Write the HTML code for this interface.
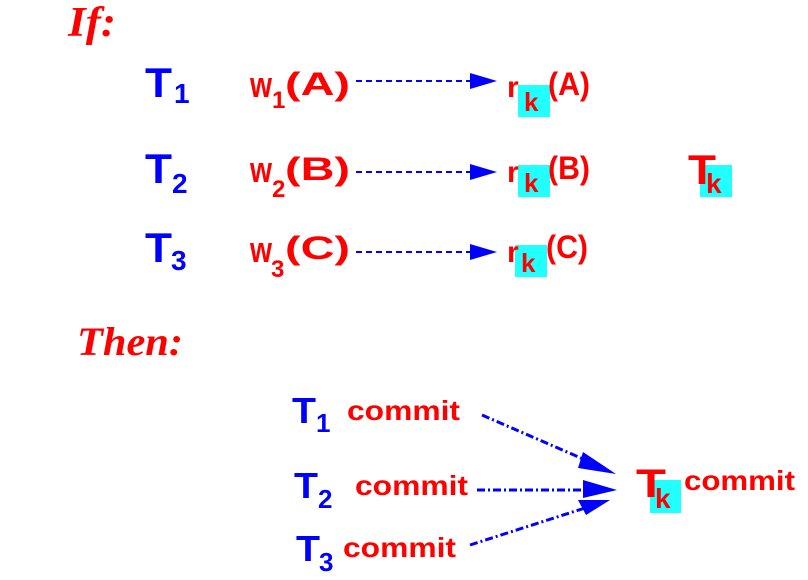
<!DOCTYPE html>
<html><head><meta charset="utf-8"><style>
html,body{margin:0;padding:0;background:#fff;width:808px;height:580px;overflow:hidden}
svg{display:block}
.b{fill:#0000ff;font-family:"Liberation Sans",sans-serif;font-weight:bold}
.r{fill:#ff0000;font-family:"Liberation Sans",sans-serif;font-weight:bold}
.h{fill:#ff0000;font-family:"Liberation Serif",serif;font-weight:bold;font-style:italic}
</style></head><body>
<svg width="808" height="580" viewBox="0 0 808 580">
<text class="h" x="68" y="36" font-size="42" textLength="48" lengthAdjust="spacingAndGlyphs">If:</text>

<g>
<text class="b" x="145" y="97" font-size="42" textLength="27" lengthAdjust="spacingAndGlyphs">T</text>
<text class="b" x="174" y="103" font-size="28">1</text>
<text class="r" x="250" y="97" font-size="36" textLength="22" lengthAdjust="spacingAndGlyphs">w</text>
<text class="r" x="272" y="108" font-size="24">1</text>
<text class="r" x="285" y="95" font-size="32" textLength="65" lengthAdjust="spacingAndGlyphs">(A)</text>
<line x1="356" y1="81" x2="472" y2="81" stroke="#0000ff" stroke-width="2" stroke-dasharray="6,4"/>
<path d="M470,73 L497,81 L470,89 z" fill="#0000ff"/>
<rect x="518" y="85" width="32" height="32" fill="#22ffff"/>
<text class="r" x="507" y="97" font-size="30">r</text>
<text class="r" x="524" y="111" font-size="26">k</text>
<text class="r" x="548" y="95" font-size="32" textLength="42" lengthAdjust="spacingAndGlyphs">(A)</text>
</g>

<g>
<text class="b" x="145" y="183" font-size="42" textLength="27" lengthAdjust="spacingAndGlyphs">T</text>
<text class="b" x="172" y="193" font-size="28">2</text>
<text class="r" x="250" y="182" font-size="36" textLength="22" lengthAdjust="spacingAndGlyphs">w</text>
<text class="r" x="272" y="197" font-size="24">2</text>
<text class="r" x="285" y="180" font-size="32" textLength="65" lengthAdjust="spacingAndGlyphs">(B)</text>
<line x1="356" y1="172" x2="472" y2="172" stroke="#0000ff" stroke-width="2" stroke-dasharray="6,4"/>
<path d="M470,164 L497,172 L470,180 z" fill="#0000ff"/>
<rect x="518" y="165" width="32" height="32" fill="#22ffff"/>
<text class="r" x="507" y="182" font-size="30">r</text>
<text class="r" x="524" y="192" font-size="26">k</text>
<text class="r" x="548" y="179" font-size="32" textLength="42" lengthAdjust="spacingAndGlyphs">(B)</text>
<rect x="700" y="165" width="32" height="32" fill="#22ffff"/>
<text class="r" x="688" y="184" font-size="42" textLength="28" lengthAdjust="spacingAndGlyphs">T</text>
<text class="r" x="706" y="193" font-size="28">k</text>
</g>

<g>
<text class="b" x="145" y="262" font-size="42" textLength="27" lengthAdjust="spacingAndGlyphs">T</text>
<text class="b" x="171" y="270" font-size="28">3</text>
<text class="r" x="250" y="262" font-size="36" textLength="22" lengthAdjust="spacingAndGlyphs">w</text>
<text class="r" x="271" y="277" font-size="24">3</text>
<text class="r" x="285" y="259" font-size="32" textLength="65" lengthAdjust="spacingAndGlyphs">(C)</text>
<line x1="356" y1="252" x2="472" y2="252" stroke="#0000ff" stroke-width="2" stroke-dasharray="6,4"/>
<path d="M470,244 L497,252 L470,260 z" fill="#0000ff"/>
<rect x="515" y="245" width="32" height="32" fill="#22ffff"/>
<text class="r" x="507" y="262" font-size="30">r</text>
<text class="r" x="521" y="272" font-size="26">k</text>
<text class="r" x="546" y="258" font-size="32" textLength="42" lengthAdjust="spacingAndGlyphs">(C)</text>
</g>

<text class="h" x="77" y="355" font-size="40" textLength="106" lengthAdjust="spacingAndGlyphs">Then:</text>

<g>
<text class="b" x="292" y="423" font-size="36" textLength="24" lengthAdjust="spacingAndGlyphs">T</text>
<text class="b" x="316" y="432" font-size="26">1</text>
<text class="r" x="347" y="420" font-size="28" textLength="113" lengthAdjust="spacingAndGlyphs">commit</text>
</g>
<g>
<text class="b" x="294" y="498" font-size="36" textLength="24" lengthAdjust="spacingAndGlyphs">T</text>
<text class="b" x="318" y="508" font-size="26">2</text>
<text class="r" x="355" y="495" font-size="28" textLength="113" lengthAdjust="spacingAndGlyphs">commit</text>
</g>
<g>
<text class="b" x="296" y="561" font-size="36" textLength="24" lengthAdjust="spacingAndGlyphs">T</text>
<text class="b" x="319" y="571" font-size="26">3</text>
<text class="r" x="343" y="557" font-size="28" textLength="113" lengthAdjust="spacingAndGlyphs">commit</text>
</g>

<g stroke="#0000ff" stroke-width="3" stroke-dasharray="8,3,2,3" fill="none">
<line x1="482" y1="415" x2="590" y2="462"/>
<line x1="477" y1="490" x2="585" y2="490"/>
<line x1="470" y1="545" x2="585" y2="508"/>
</g>
<g fill="#0000ff">
<path d="M583,452 L616,474 L578,468 z"/>
<path d="M583,480 L617,490 L583,498 z"/>
<path d="M578,500 L610,500 L586,515 z"/>
</g>

<g>
<rect x="650" y="480" width="31" height="33" fill="#22ffff"/>
<text class="r" x="636" y="497" font-size="40" textLength="30" lengthAdjust="spacingAndGlyphs">T</text>
<text class="r" x="655" y="508" font-size="28">k</text>
<text class="r" x="684" y="490" font-size="28" textLength="111" lengthAdjust="spacingAndGlyphs">commit</text>
</g>
</svg>
</body></html>
